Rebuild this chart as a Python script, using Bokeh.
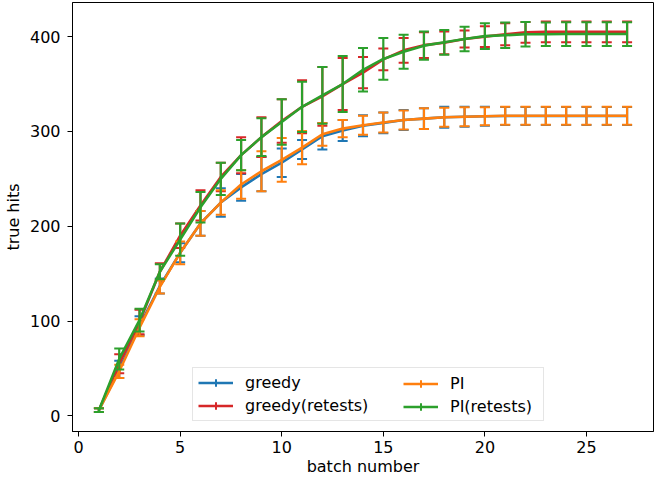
import math
from bokeh.plotting import figure
from bokeh.models import ColumnDataSource, Range1d, FixedTicker, Legend, LegendItem
from bokeh.embed import file_html
from bokeh.resources import INLINE

batches = list(range(1, 28))

greedy = [6, 49, 95, 137, 172, 203, 225, 241, 255, 267, 281, 295, 301, 306, 309, 312, 313.5,
          315, 315.5, 316, 316.3, 316.3, 316.3, 316.3, 316.3, 316.3, 316.3]
greedy_err = [2, 9, 10, 8, 10, 13, 15, 14, 18, 15, 10, 14, 11, 11, 11, 10.5, 11,
              11, 10.5, 10, 9.5, 9.5, 9.5, 9.5, 9.5, 9.5, 9.5]

greedy_retests = [6, 55, 99, 152, 190, 222, 252, 275, 294, 311, 326, 337, 350, 362, 376, 385.5, 391,
                  393.5, 397.5, 400, 402.5, 404.5, 405, 405, 405, 405, 405]
greedy_retests_err = [2, 10, 13, 9, 13, 16, 15, 19, 21, 23, 28, 31, 27.5, 16.5, 11.5, 13, 13.5,
                      12, 9, 11, 11.5, 11, 11, 11, 11, 11, 11]

pi = [6, 47, 93, 136, 172, 203, 225, 244, 258, 270, 283, 297, 303, 306.5, 309.5, 312, 313.5,
      315, 315.5, 316, 316.5, 316.5, 316.5, 316.5, 316.5, 316.5, 316.5]
pi_err = [2, 7, 9, 7, 12, 13, 13, 15, 21, 23, 17.5, 12, 9, 10, 10.5, 10, 11,
          10, 10, 9.5, 9.5, 9.5, 9.5, 9.5, 9.5, 9.5, 9.5]

pi_retests = [6, 60, 101, 152, 186, 220, 250, 275, 294, 310, 326, 338, 350, 365, 376.5, 384, 390.5,
              394, 397.5, 400.5, 401.5, 402.5, 402.5, 402.7, 402.7, 402.7, 402.7]
pi_retests_err = [2, 11, 12, 8, 17, 16, 17, 16, 20, 24, 26.5, 30, 29.5, 23, 22, 18, 15,
                  13, 13, 13.5, 13.5, 13, 12.5, 12.5, 12.5, 12.5, 12.5]

series = [
    ("greedy", greedy, greedy_err, "#1f77b4"),
    ("greedy(retests)", greedy_retests, greedy_retests_err, "#d62728"),
    ("PI", pi, pi_err, "#ff7f0e"),
    ("PI(retests)", pi_retests, pi_retests_err, "#2ca02c"),
]

FONT = "DejaVu Sans"
FS = "16px"

p = figure(width=655, height=478, output_backend="svg", toolbar_location=None,
           x_range=Range1d(-0.3, 28.3), y_range=Range1d(-16.5, 436),
           min_border_left=64, min_border_right=2, min_border_top=2, min_border_bottom=0)
p.grid.visible = False
p.outline_line_color = "black"
p.outline_line_width = 1
p.background_fill_color = "white"

for ax in [p.xaxis[0], p.yaxis[0]]:
    ax.major_tick_out = 5
    ax.major_tick_in = 0
    ax.minor_tick_line_color = None
    ax.major_tick_line_color = "black"
    ax.axis_line_color = "black"
    ax.major_label_text_font = FONT
    ax.major_label_text_font_size = FS
    ax.major_label_text_color = "black"
    ax.axis_label_text_font = FONT
    ax.axis_label_text_font_style = "normal"
    ax.axis_label_text_font_size = FS
    ax.axis_label_text_color = "black"

p.xaxis.ticker = FixedTicker(ticks=[0, 5, 10, 15, 20, 25])
p.yaxis.ticker = FixedTicker(ticks=[0, 100, 200, 300, 400])
p.xaxis.axis_label = "batch number"
p.yaxis.axis_label = "true hits"
p.xaxis.major_label_standoff = 4
p.xaxis.axis_label_standoff = 1
p.yaxis.major_label_standoff = 7
p.yaxis.axis_label_standoff = 4

items = []
for name, vals, errs, col in series:
    lo = [v - e for v, e in zip(vals, errs)]
    hi = [v + e for v, e in zip(vals, errs)]
    src = ColumnDataSource(dict(x=batches, y=vals, lo=lo, hi=hi))
    lr = p.line(x="x", y="y", source=src, line_color=col, line_width=2.6)
    p.segment(x0="x", y0="lo", x1="x", y1="hi", source=src, line_color=col, line_width=2.2)
    p.scatter(x="x", y="lo", source=src, marker="dash", size=10, line_color=col, line_width=2)
    p.scatter(x="x", y="hi", source=src, marker="dash", size=10, line_color=col, line_width=2)
    icon = p.scatter(x="x", y="y", source=src, marker="cross", size=0, line_color=col, line_width=2)
    items.append(LegendItem(label=name, renderers=[lr, icon]))

common = dict(orientation="vertical", padding=5, spacing=4, glyph_width=35, glyph_height=19,
              label_standoff=12, label_text_font=FONT, label_text_font_size=FS,
              label_text_color="black", margin=0)

legA = Legend(items=items[:2], location=(120, 10), label_width=293,
              border_line_color="#cccccc", border_line_width=1,
              background_fill_color="white", background_fill_alpha=0.8, **common)
legB = Legend(items=items[2:], location=(326, 10), label_width=20,
              border_line_alpha=0, background_fill_alpha=0, **common)
p.add_layout(legA)
p.add_layout(legB)

open("out.html", "w").write(file_html(p, INLINE))
